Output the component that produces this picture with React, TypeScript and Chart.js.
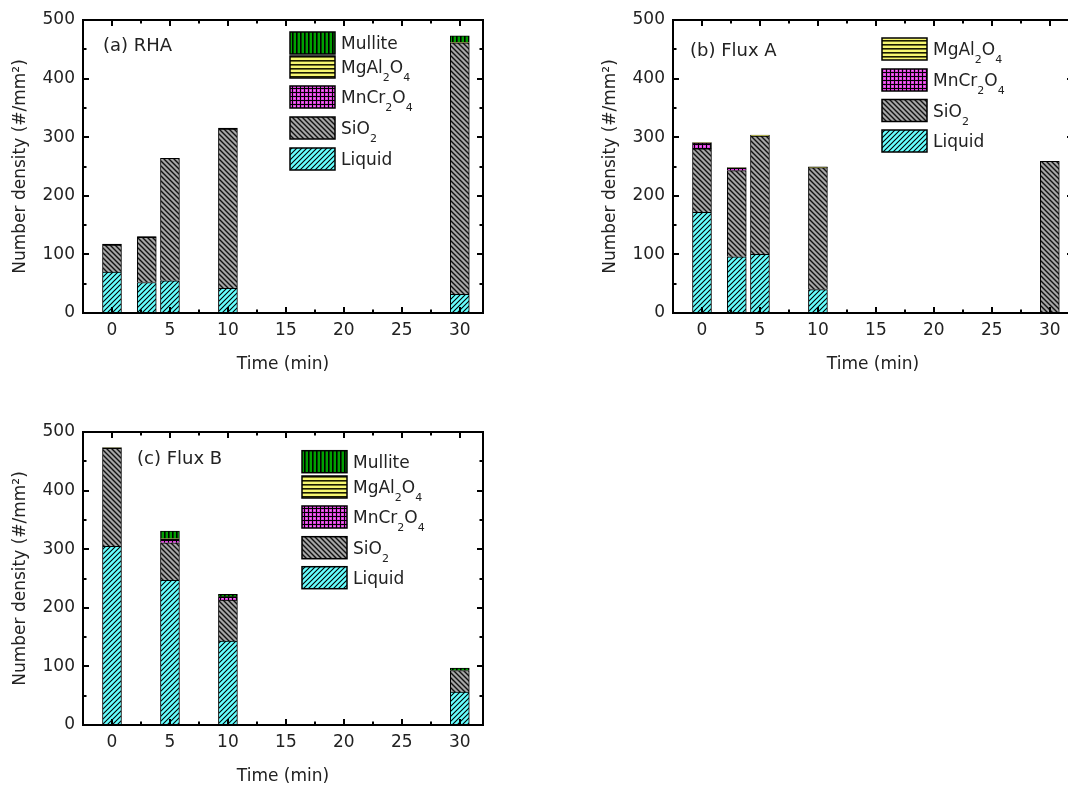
import React, { useEffect, useRef } from 'react';
import { Chart, registerables } from 'chart.js';
Chart.register(...registerables);

// ---------------- data ----------------
const timesA = [0, 3, 5, 10, 30];
const liquidA = [70, 52, 55, 42, 32];
const sio2A = [46, 77, 209, 272, 429];
const mncrA = [1.5, 1.5, 0, 1.5, 0];
const mgalA = [0, 0, 0, 0, 1];
const mulliteA = [0, 0, 0, 0, 11];

const timesB = [0, 3, 5, 10, 30];
const liquidB = [172, 96, 100, 40, 0];
const sio2B = [108, 147, 202, 208, 259];
const mncrB = [10, 4, 0, 0, 0];
const mgalB = [1, 1, 1.5, 1.5, 0];

const timesC = [0, 5, 10, 30];
const liquidC = [305, 247, 143, 56];
const sio2C = [167, 64, 70, 37];
const mncrC = [0, 6, 5, 0];
const mgalC = [1.5, 1, 1, 0];
const mulliteC = [0, 13, 4, 4];

const xTickValues = [0, 5, 10, 15, 20, 25, 30];
const yTickValues = [0, 100, 200, 300, 400, 500];

type Key = 'liquid' | 'sio2' | 'mncr' | 'mgal' | 'mullite';
const stackOrder: Key[] = ['liquid', 'sio2', 'mncr', 'mgal', 'mullite'];
const legendNames: Record<Key, [string, boolean][]> = {
  liquid: [['Liquid', false]],
  sio2: [['SiO', false], ['2', true]],
  mncr: [['MnCr', false], ['2', true], ['O', false], ['4', true]],
  mgal: [['MgAl', false], ['2', true], ['O', false], ['4', true]],
  mullite: [['Mullite', false]],
};

const FONT = 'DejaVu Sans';
const TEXT = '#222';

interface PanelDef {
  label: string;
  times: number[];
  series: Partial<Record<Key, number[]>>;
  legendKeys: Key[];
  left: number;
  top: number;
  labelX: number;
  labelY: number;
  legendX: number;
  legendTops: number[];
}

const panels: PanelDef[] = [
  {
    label: '(a) RHA',
    times: timesA,
    series: { liquid: liquidA, sio2: sio2A, mncr: mncrA, mgal: mgalA, mullite: mulliteA },
    legendKeys: ['mullite', 'mgal', 'mncr', 'sio2', 'liquid'],
    left: 0, top: 0, labelX: 103, labelY: 44, legendX: 290, legendTops: [32, 56, 86, 117, 148],
  },
  {
    label: '(b) Flux A',
    times: timesB,
    series: { liquid: liquidB, sio2: sio2B, mncr: mncrB, mgal: mgalB },
    legendKeys: ['mgal', 'mncr', 'sio2', 'liquid'],
    left: 590, top: 0, labelX: 100, labelY: 49, legendX: 292, legendTops: [38, 69, 99.5, 130],
  },
  {
    label: '(c) Flux B',
    times: timesC,
    series: { liquid: liquidC, sio2: sio2C, mncr: mncrC, mgal: mgalC, mullite: mulliteC },
    legendKeys: ['mullite', 'mgal', 'mncr', 'sio2', 'liquid'],
    left: 0, top: 412, labelX: 137, labelY: 45.5, legendX: 302, legendTops: [38.7, 64, 94, 124.7, 154.7],
  },
];

const CW = 500;
const CH = 380;

function makePatterns(ctx: CanvasRenderingContext2D): Record<Key, CanvasPattern> {
  const tile = (w: number, h: number, draw: (t: CanvasRenderingContext2D) => void) => {
    const c = document.createElement('canvas');
    c.width = w;
    c.height = h;
    const t = c.getContext('2d')!;
    draw(t);
    return ctx.createPattern(c, 'repeat')!;
  };
  return {
    liquid: tile(5, 5, (t) => {
      t.fillStyle = '#66ffff';
      t.fillRect(0, 0, 5, 5);
      t.strokeStyle = '#000';
      t.lineWidth = 1.1;
      t.beginPath();
      t.moveTo(-1, 6); t.lineTo(6, -1);
      t.moveTo(-1, 1); t.lineTo(1, -1);
      t.moveTo(4, 6); t.lineTo(6, 4);
      t.stroke();
    }),
    sio2: tile(5, 5, (t) => {
      t.fillStyle = '#a6a6a6';
      t.fillRect(0, 0, 5, 5);
      t.strokeStyle = '#111';
      t.lineWidth = 1.4;
      t.beginPath();
      t.moveTo(-1, -1); t.lineTo(6, 6);
      t.moveTo(-1, 4); t.lineTo(1, 6);
      t.moveTo(4, -1); t.lineTo(6, 1);
      t.stroke();
    }),
    mncr: tile(4, 4, (t) => {
      t.fillStyle = '#dc3fdc';
      t.fillRect(0, 0, 4, 4);
      t.fillStyle = '#000';
      t.fillRect(0, 0, 4, 1);
      t.fillRect(0, 0, 1, 4);
      t.fillStyle = '#f08af0';
      t.fillRect(2, 2, 1, 1);
    }),
    mgal: tile(4, 4, (t) => {
      t.fillStyle = '#f6f670';
      t.fillRect(0, 0, 4, 4);
      t.fillStyle = '#1a1a00';
      t.fillRect(0, 0, 4, 1.6);
    }),
    mullite: tile(4, 4, (t) => {
      t.fillStyle = '#00a000';
      t.fillRect(0, 0, 4, 4);
      t.fillStyle = '#000';
      t.fillRect(0, 0, 1.6, 4);
    }),
  };
}

function drawRich(ctx: CanvasRenderingContext2D, parts: [string, boolean][], x: number, baseline: number, size: number) {
  let cx = x;
  for (const [txt, sub] of parts) {
    ctx.font = `${sub ? 11 : size}px "${FONT}"`;
    ctx.fillText(txt, cx, sub ? baseline + 8 : baseline);
    cx += ctx.measureText(txt).width;
  }
}

function makeChart(canvas: HTMLCanvasElement, p: PanelDef) {
  const ctx = canvas.getContext('2d')!;
  const pats = makePatterns(ctx);
  const keys = stackOrder.filter((k) => p.series[k]);
  const datasets = keys.map((k) => {
    const vals = p.series[k]!;
    return {
      label: k,
      data: p.times.flatMap((t, i) => (vals[i] ? [{ x: t, y: vals[i] }] : [])),
      backgroundColor: pats[k],
      borderColor: '#000',
      borderWidth: 1,
      barThickness: 19,
    };
  });

  const decor = {
    id: 'decor' + p.label,
    afterDatasetsDraw(chart: any) {
      const c = chart.ctx as CanvasRenderingContext2D;
      const { left, right, top, bottom } = chart.chartArea;
      const xs = chart.scales.x;
      const ys = chart.scales.y;
      c.save();
      c.strokeStyle = '#000';
      c.lineWidth = 2;
      c.strokeRect(left, top, right - left, bottom - top);
      c.beginPath();
      for (let v = 0; v <= 30; v += 2.5) {
        const len = v % 5 === 0 ? 6 : 3.5;
        const px = Math.round(xs.getPixelForValue(v));
        c.moveTo(px, bottom); c.lineTo(px, bottom - len);
        c.moveTo(px, top); c.lineTo(px, top + len);
      }
      for (let v = 50; v < 500; v += 50) {
        const len = v % 100 === 0 ? 6 : 3.5;
        const py = Math.round(ys.getPixelForValue(v));
        c.moveTo(left, py); c.lineTo(left + len, py);
        c.moveTo(right, py); c.lineTo(right - len, py);
      }
      c.stroke();

      // panel label
      c.fillStyle = TEXT;
      c.textBaseline = 'alphabetic';
      c.textAlign = 'left';
      c.font = `18px "${FONT}"`;
      c.fillText(p.label, p.labelX, p.labelY + 6.6);

      // legend
      p.legendKeys.forEach((k, i) => {
        const y0 = p.legendTops[i];
        c.fillStyle = pats[k];
        c.fillRect(p.legendX, y0, 45, 22);
        c.strokeStyle = '#000';
        c.lineWidth = 1.5;
        c.strokeRect(p.legendX, y0, 45, 22);
        c.fillStyle = TEXT;
        drawRich(c, legendNames[k], p.legendX + 51, y0 + 11 + 6.2, 17);
      });
      c.restore();
    },
  };

  const font = { family: FONT, size: 17 };
  return new Chart(canvas, {
    type: 'bar',
    data: { datasets },
    options: {
      responsive: false,
      animation: false,
      events: [],
      layout: { padding: { top: 20, right: CW - 483, left: 0, bottom: 0 } },
      plugins: { legend: { display: false }, tooltip: { enabled: false } },
      scales: {
        x: {
          type: 'linear',
          stacked: true,
          offset: false,
          min: -2.5,
          max: 32,
          afterBuildTicks: (s: any) => { s.ticks = xTickValues.map((v) => ({ value: v })); },
          afterFit: (s: any) => { s.height = CH - 313; },
          grid: { display: false, drawTicks: false },
          border: { display: false },
          ticks: { font, color: TEXT, padding: 7, maxRotation: 0, autoSkip: false },
          title: { display: true, text: 'Time (min)', font, color: TEXT, padding: { top: 0, bottom: 5 } },
        },
        y: {
          stacked: true,
          min: 0,
          max: 500,
          afterBuildTicks: (s: any) => { s.ticks = yTickValues.map((v) => ({ value: v })); },
          afterFit: (s: any) => { s.width = 83; },
          grid: { display: false, drawTicks: false },
          border: { display: false },
          ticks: { font, color: TEXT, padding: 8 },
          title: { display: true, text: 'Number density (#/mm²)', font, color: TEXT, padding: { top: 10, bottom: 0 } },
        },
      },
    },
    plugins: [decor],
  } as any);
}

export default function App() {
  const r0 = useRef<HTMLCanvasElement>(null);
  const r1 = useRef<HTMLCanvasElement>(null);
  const r2 = useRef<HTMLCanvasElement>(null);
  const refs = [r0, r1, r2];

  useEffect(() => {
    const charts = panels.map((p, i) => makeChart(refs[i].current!, p));
    return () => charts.forEach((c) => c.destroy());
  }, []);

  return (
    <div style={{ position: 'absolute', left: 0, top: 0, width: 1068, height: 790, overflow: 'hidden', background: '#fff' }}>
      {panels.map((p, i) => (
        <canvas
          key={p.label}
          ref={refs[i]}
          width={CW}
          height={CH}
          style={{ position: 'absolute', left: p.left, top: p.top }}
        />
      ))}
    </div>
  );
}
